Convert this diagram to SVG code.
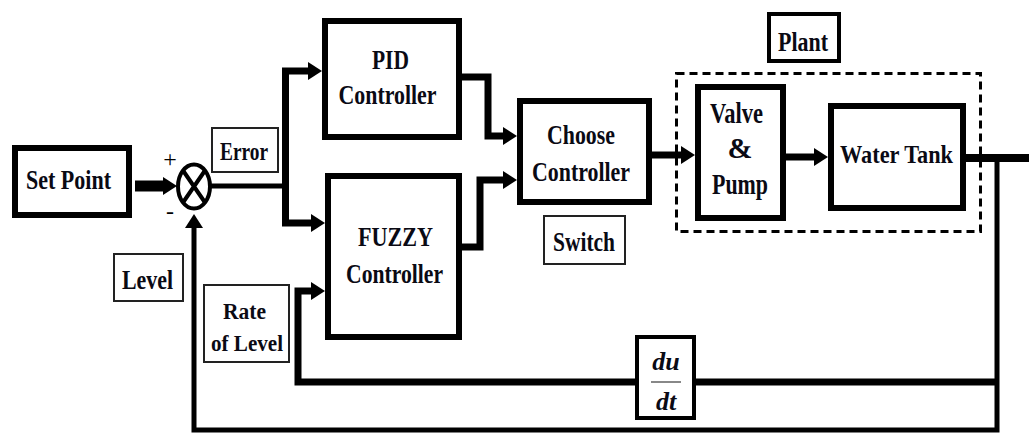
<svg xmlns="http://www.w3.org/2000/svg" width="1029" height="434" viewBox="0 0 1029 434">
<style>
.t{font-family:"Liberation Serif","Tinos","Times New Roman",serif;font-weight:bold;font-size:28px;fill:#0a0a14;text-anchor:middle}
.box{fill:#fff;stroke:#000;stroke-width:6}
.lbl{fill:#fff;stroke:#222;stroke-width:2}
.w{fill:none;stroke:#000;stroke-width:7;stroke-linejoin:miter}
.f{fill:none;stroke:#000;stroke-width:5}
</style>
<defs>
<marker id="ah" viewBox="0 -9 14 18" refX="0" refY="0" markerWidth="14" markerHeight="18" markerUnits="userSpaceOnUse" orient="auto">
<path d="M0,-9 L14,0 L0,9 z" fill="#000"/>
</marker>
</defs>
<g id="connectors">
<path class="w" d="M135,186 H163" style="stroke-width:11" marker-end="url(#ah)"/>
<path class="f" d="M211,186 H285.5"/>
<path class="w" d="M285.5,223 V71 H308" marker-end="url(#ah)"/>
<path class="w" d="M285.5,186 V223 H311" marker-end="url(#ah)"/>
<path class="w" d="M462,77 H488 V136 H503" marker-end="url(#ah)"/>
<path class="w" d="M462,247 H480 V180 H503" marker-end="url(#ah)"/>
<path class="w" d="M652,155 H681" marker-end="url(#ah)"/>
<path class="w" d="M786,157 H814" marker-end="url(#ah)"/>
<path class="w" d="M966,158 H1029" style="stroke-width:8"/>
<path class="f" d="M997,158 V430 H194 V228" marker-end="url(#ah)"/>
<path class="w" d="M997,382 H298 V291 H311" marker-end="url(#ah)"/>
</g>
<g id="setpoint"><rect class="box" x="15" y="148" width="114" height="67"/><text class="t" x="68.5" y="189" textLength="85" lengthAdjust="spacingAndGlyphs">Set Point</text></g>
<g id="junction">
<ellipse cx="194" cy="186.5" rx="16" ry="22" fill="#fff" stroke="#000" stroke-width="4"/>
<path d="M183,170.5 L205,202.5 M205,170.5 L183,202.5" stroke="#000" stroke-width="4"/>
<text x="170" y="167" style="font-family:'Liberation Serif',serif;font-size:24px;text-anchor:middle">+</text>
<text x="170" y="219" style="font-family:'Liberation Serif',serif;font-size:24px;text-anchor:middle">-</text>
</g>
<g id="error"><rect class="lbl" x="212" y="128" width="66" height="44"/><text class="t" x="244" y="160" style="font-size:26px" textLength="48" lengthAdjust="spacingAndGlyphs">Error</text></g>
<g id="level"><rect class="lbl" x="114" y="254" width="69" height="47"/><text class="t" x="147.5" y="289" textLength="51" lengthAdjust="spacingAndGlyphs">Level</text></g>
<g id="pid"><rect class="box" x="325" y="21" width="134" height="116"/><text class="t" x="390.5" y="69" textLength="37" lengthAdjust="spacingAndGlyphs">PID</text><text class="t" x="387.5" y="104" textLength="98" lengthAdjust="spacingAndGlyphs">Controller</text></g>
<g id="fuzzy"><rect class="box" x="328" y="176" width="131" height="161"/><text class="t" x="395.5" y="246" textLength="75" lengthAdjust="spacingAndGlyphs">FUZZY</text><text class="t" x="394.5" y="283" textLength="97" lengthAdjust="spacingAndGlyphs">Controller</text></g>
<g id="rate"><rect class="lbl" x="204" y="285" width="85" height="77"/><text class="t" x="244.5" y="319" style="font-size:24px" textLength="43" lengthAdjust="spacingAndGlyphs">Rate</text><text class="t" x="247" y="351" style="font-size:24px" textLength="72" lengthAdjust="spacingAndGlyphs">of Level</text></g>
<g id="choose"><rect class="box" x="520" y="101" width="129" height="101"/><text class="t" x="581" y="144" textLength="68" lengthAdjust="spacingAndGlyphs">Choose</text><text class="t" x="581" y="181" textLength="98" lengthAdjust="spacingAndGlyphs">Controller</text></g>
<g id="switch"><rect class="lbl" x="544" y="216" width="81" height="48"/><text class="t" x="584" y="251" textLength="62" lengthAdjust="spacingAndGlyphs">Switch</text></g>
<g id="plant"><rect x="676.5" y="73.5" width="304" height="158" fill="none" stroke="#000" stroke-width="3" stroke-dasharray="8,5"/><rect x="769" y="14" width="70" height="47" fill="#fff" stroke="#000" stroke-width="4"/><text class="t" x="803" y="51" textLength="50" lengthAdjust="spacingAndGlyphs">Plant</text></g>
<g id="valve"><rect class="box" x="698" y="87" width="85" height="131"/><text class="t" x="736.5" y="123" style="font-size:30px" textLength="53" lengthAdjust="spacingAndGlyphs">Valve</text><text class="t" x="740" y="158" style="font-size:30px">&amp;</text><text class="t" x="740" y="194" style="font-size:30px" textLength="56" lengthAdjust="spacingAndGlyphs">Pump</text></g>
<g id="tank"><rect class="box" x="831" y="106" width="132" height="102"/><text class="t" x="896.5" y="163" style="font-size:26px" textLength="113" lengthAdjust="spacingAndGlyphs">Water Tank</text></g>
<g id="deriv"><rect x="637" y="337" width="57" height="81" fill="#fff" stroke="#000" stroke-width="4"/><text class="t" x="666" y="370" style="font-style:italic;font-size:26px">du</text><path d="M651,382 H681" stroke="#888" stroke-width="2"/><text class="t" x="666" y="410" style="font-style:italic;font-size:26px">dt</text></g>
</svg>
